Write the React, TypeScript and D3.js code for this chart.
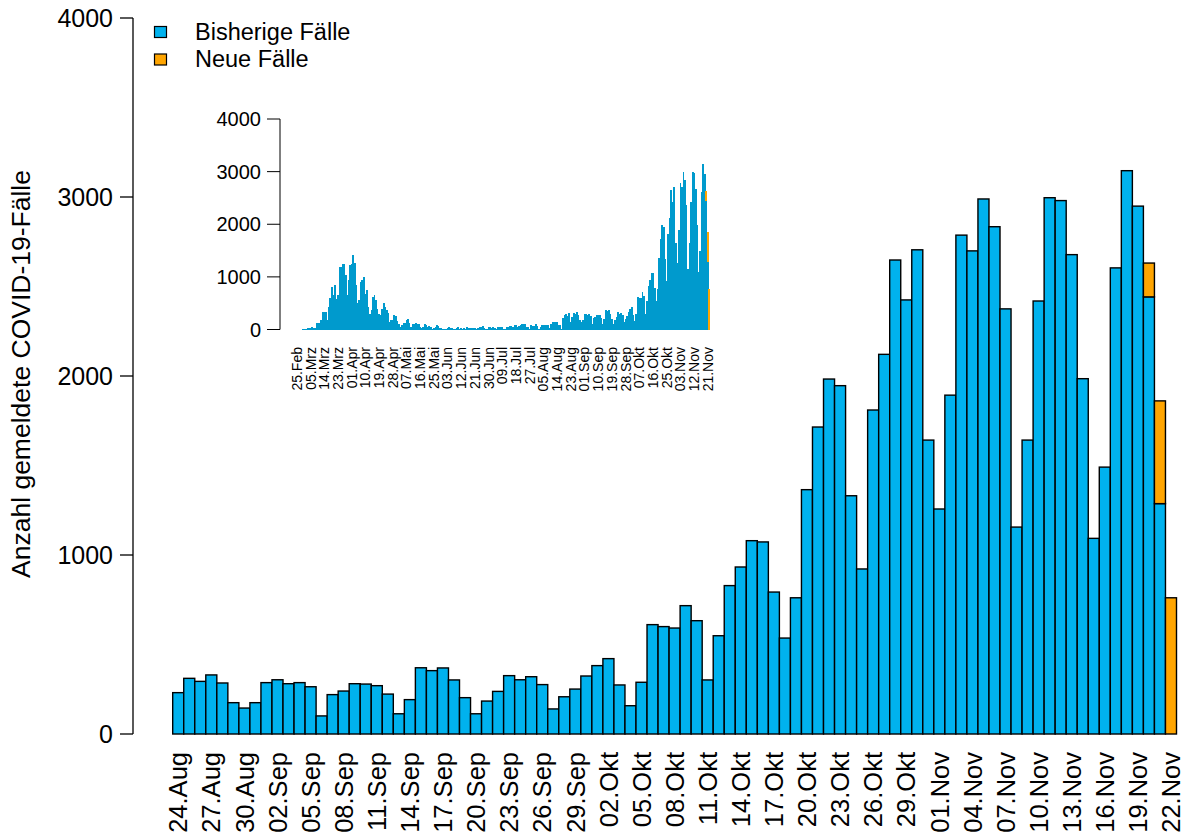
import React from 'react';
import * as d3 from 'd3';

// Bisherige Fälle, 25.Feb – 23.Aug (inset only)
const earlyCases = [
  0, 0, 0, 0, 1, 2, 2, 30, 30, 30,
  45, 25, 25, 120, 120, 130, 184, 324, 337, 337,
  184, 432, 603, 813, 660, 851, 572, 660, 1194, 1194,
  1245, 1251, 1029, 660, 946, 1232, 1251, 1422, 1270, 851,
  508, 565, 908, 946, 1003, 680, 756, 432, 298, 375,
  622, 660, 565, 394, 292, 279, 394, 508, 432, 375,
  318, 152, 184, 184, 279, 260, 165, 108, 45, 89,
  127, 127, 184, 203, 127, 51, 108, 108, 127, 108,
  108, 45, 32, 51, 102, 83, 45, 64, 51, 19,
  25, 51, 89, 70, 32, 25, 13, 13, 13, 25,
  51, 32, 25, 13, 13, 25, 51, 13, 32, 10,
  32, 13, 51, 32, 32, 32, 32, 32, 13, 32,
  51, 51, 76, 32, 13, 13, 51, 51, 32, 51,
  32, 13, 51, 51,
  45, 45, 19, 19, 45, 45, 70, 70, 57, 89,
  89, 57, 70, 80, 108, 108, 108, 57, 57, 13,
  89, 70, 70, 108, 70, 13, 57, 89, 89, 89,
  89, 89, 38, 108, 146, 146, 146, 146, 89, 89,
  13, 222, 279, 298, 260, 318, 146,
];

// Bisherige Fälle, 24.Aug – 22.Nov (main chart)
const recentCases = [
  231, 311, 294, 330, 285, 175, 145, 175, 287, 303,
  281, 287, 264, 101, 220, 240, 281, 279, 270, 223,
  113, 192, 370, 354, 369, 302, 203, 113, 184, 238,
  326, 303, 320, 276, 140, 208, 251, 324, 382, 421,
  274, 158, 289, 611, 600, 592, 717, 633, 302, 549,
  829, 933, 1080, 1073, 793, 536, 761, 1365, 1715, 1983,
  1946, 1331, 922, 1810, 2121, 2648, 2425, 2705, 1642, 1257,
  1893, 2787, 2699, 2989, 2834, 2375, 1156, 1642, 2419, 2996,
  2980, 2678, 1985, 1093, 1491, 2604, 3147, 2949, 2442, 1287,
  0,
];

// Neue Fälle: day index (from 25.Feb) and value
const newCaseDays = [269, 270, 271];
const newCaseValues = [189, 574, 761];

const mainTickLabels = [
  '24.Aug', '27.Aug', '30.Aug', '02.Sep', '05.Sep', '08.Sep', '11.Sep', '14.Sep',
  '17.Sep', '20.Sep', '23.Sep', '26.Sep', '29.Sep', '02.Okt', '05.Okt', '08.Okt',
  '11.Okt', '14.Okt', '17.Okt', '20.Okt', '23.Okt', '26.Okt', '29.Okt', '01.Nov',
  '04.Nov', '07.Nov', '10.Nov', '13.Nov', '16.Nov', '19.Nov', '22.Nov',
];

const insetTickLabels = [
  '25.Feb', '05.Mrz', '14.Mrz', '23.Mrz', '01.Apr', '10.Apr', '19.Apr', '28.Apr',
  '07.Mai', '16.Mai', '25.Mai', '03.Jun', '12.Jun', '21.Jun', '30.Jun', '09.Jul',
  '18.Jul', '27.Jul', '05.Aug', '14.Aug', '23.Aug', '01.Sep', '10.Sep', '19.Sep',
  '28.Sep', '07.Okt', '16.Okt', '25.Okt', '03.Nov', '12.Nov', '21.Nov',
];

const yTicks = [0, 1000, 2000, 3000, 4000];
const legendLabels = ['Bisherige Fälle', 'Neue Fälle'];

const BLUE = '#00B2EE';
const BLUE_INSET = '#009ACD';
const ORANGE = '#FFA500';
const FONT = '"Liberation Sans", Arial, Helvetica, sans-serif';

export default function App() {
  const allCases = [...earlyCases, ...recentCases];
  const nDays = allCases.length;
  const newCases = new Array(nDays).fill(0);
  newCaseDays.forEach((d, i) => { newCases[d] = newCaseValues[i]; });
  const mainStart = earlyCases.length;
  const mainIdx = d3.range(mainStart, nDays);

  // main scales
  const x = d3.scaleBand<number>().domain(mainIdx).range([172.7, 1176.5]).padding(0);
  const y = d3.scaleLinear().domain([0, 4000]).range([734, 18]);

  // inset scales
  const xi = d3.scaleBand<number>().domain(d3.range(nDays)).range([296, 710]).padding(0);
  const yi = d3.scaleLinear().domain([0, 4000]).range([329.5, 119]);

  const mainLabelIdx = mainTickLabels.map((_, i) => mainStart + i * 3);
  const insetLabelIdx = insetTickLabels.map((_, i) => i * 9);

  return (
    <svg width={1186} height={840} style={{ position: 'absolute', left: 0, top: 0, background: '#fff' }}
      fontFamily={FONT}>
      {/* main bars */}
      <g stroke="#000" strokeWidth={1.4}>
        {mainIdx.map((d) => {
          const b = allCases[d];
          const n = newCases[d];
          const x0 = x(d)!;
          const w = x.bandwidth();
          return (
            <g key={d}>
              {b > 0 && <rect x={x0} y={y(b)} width={w} height={y(0) - y(b)} fill={BLUE} />}
              {n > 0 && <rect x={x0} y={y(b + n)} width={w} height={y(b) - y(b + n)} fill={ORANGE} />}
            </g>
          );
        })}
      </g>

      {/* main y axis */}
      <g stroke="#000" strokeWidth={1.3}>
        <line x1={133} x2={133} y1={y(4000)} y2={y(0)} />
        {yTicks.map((t) => (
          <line key={t} x1={120} x2={133} y1={y(t)} y2={y(t)} />
        ))}
      </g>
      {yTicks.map((t) => (
        <text key={t} x={113} y={y(t)} dy="0.35em" textAnchor="end" fontSize={25} fill="#000">{t}</text>
      ))}
      <text transform="translate(30,374) rotate(-90)" textAnchor="middle" fontSize={26.5} fill="#000">
        Anzahl gemeldete COVID-19-Fälle
      </text>

      {/* main x labels */}
      {mainLabelIdx.map((d, i) => (
        <text key={d} transform={`translate(${x(d)! + x.bandwidth() / 2},752) rotate(-90)`}
          dy="0.36em" textAnchor="end" fontSize={25.5} fill="#000">{mainTickLabels[i]}</text>
      ))}

      {/* legend */}
      {legendLabels.map((l, i) => (
        <g key={l}>
          <rect x={154.5} y={26.5 + i * 27.5} width={12} height={11} fill={i === 0 ? BLUE : ORANGE}
            stroke="#000" strokeWidth={1.2} />
          <text x={195} y={39.5 + i * 27.5} fontSize={23.5} fill="#000">{l}</text>
        </g>
      ))}

      {/* inset bars */}
      <g shapeRendering="crispEdges">
        {d3.range(nDays).map((d) => {
          const b = allCases[d];
          const n = newCases[d];
          const x0 = xi(d)!;
          const w = xi.bandwidth() + 0.3;
          return (
            <g key={d}>
              {b > 0 && <rect x={x0} y={yi(b)} width={w} height={yi(0) - yi(b)} fill={BLUE_INSET} />}
              {n > 0 && <rect x={x0} y={yi(b + n)} width={w} height={yi(b) - yi(b + n)} fill={ORANGE} />}
            </g>
          );
        })}
      </g>

      {/* inset y axis */}
      <g stroke="#000" strokeWidth={1}>
        <line x1={280} x2={280} y1={yi(4000)} y2={yi(0)} />
        {yTicks.map((t) => (
          <line key={t} x1={267} x2={280} y1={yi(t)} y2={yi(t)} />
        ))}
      </g>
      {yTicks.map((t) => (
        <text key={t} x={261} y={yi(t)} dy="0.35em" textAnchor="end" fontSize={20} fill="#000">{t}</text>
      ))}

      {/* inset x labels */}
      {insetLabelIdx.map((d, i) => (
        <text key={d} transform={`translate(${xi(d)! + xi.bandwidth() / 2},347) rotate(-90)`}
          dy="0.36em" textAnchor="end" fontSize={14} fill="#000">{insetTickLabels[i]}</text>
      ))}
    </svg>
  );
}
